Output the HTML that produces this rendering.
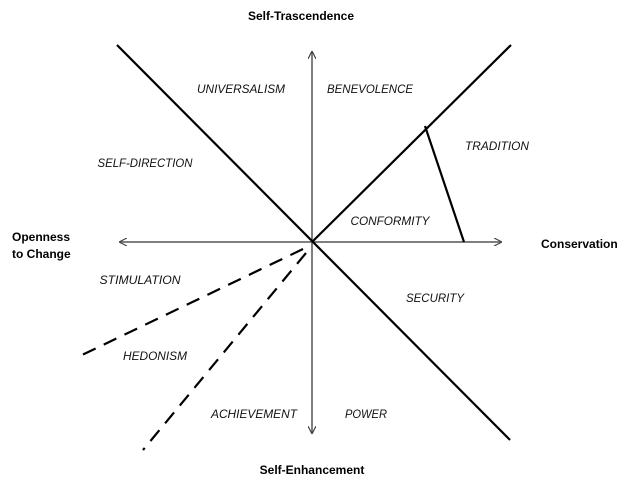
<!DOCTYPE html>
<html><head><style>body{margin:0;background:#fff}svg{display:block}</style></head>
<body>
<svg width="625" height="483" viewBox="0 0 625 483" xmlns="http://www.w3.org/2000/svg">
<defs><marker id="a" markerWidth="8" markerHeight="8" refX="7" refY="4" orient="auto" markerUnits="userSpaceOnUse"><path d="M0,0 L8,4 L0,8" fill="none" stroke="#444" stroke-width="1.2"/></marker></defs>
<g stroke="#555" stroke-width="1.5" fill="none">
<line x1="312" y1="242" x2="312" y2="52" marker-end="url(#a)"/>
<line x1="312" y1="242" x2="312" y2="433" marker-end="url(#a)"/>
<line x1="312" y1="242" x2="120" y2="242" marker-end="url(#a)"/>
<line x1="312" y1="242" x2="501" y2="242" marker-end="url(#a)"/>
</g>
<g stroke="#000" stroke-width="2.2" fill="none">
<line x1="117" y1="45" x2="510" y2="440"/>
<line x1="312" y1="242" x2="511" y2="45"/>
<line x1="425" y1="126" x2="464" y2="242"/>
<line x1="303" y1="249" x2="82" y2="355" stroke-dasharray="14,9"/>
<line x1="306" y1="253" x2="143" y2="450" stroke-dasharray="14,9"/>
</g>
<g font-family="Liberation Sans, sans-serif" font-style="italic" font-size="12" fill="#111" text-anchor="middle">
<text x="241" y="93" textLength="88" lengthAdjust="spacingAndGlyphs">UNIVERSALISM</text>
<text x="370" y="93" textLength="86" lengthAdjust="spacingAndGlyphs">BENEVOLENCE</text>
<text x="497" y="150" textLength="64" lengthAdjust="spacingAndGlyphs">TRADITION</text>
<text x="145" y="167" textLength="95" lengthAdjust="spacingAndGlyphs">SELF-DIRECTION</text>
<text x="390" y="225" textLength="79" lengthAdjust="spacingAndGlyphs">CONFORMITY</text>
<text x="140" y="284" textLength="81" lengthAdjust="spacingAndGlyphs">STIMULATION</text>
<text x="435" y="302" textLength="58" lengthAdjust="spacingAndGlyphs">SECURITY</text>
<text x="155" y="360" textLength="64" lengthAdjust="spacingAndGlyphs">HEDONISM</text>
<text x="254" y="418" textLength="86" lengthAdjust="spacingAndGlyphs">ACHIEVEMENT</text>
<text x="366" y="418" textLength="42" lengthAdjust="spacingAndGlyphs">POWER</text>
</g>
<g font-family="Liberation Sans, sans-serif" font-weight="bold" font-size="12" fill="#000">
<text x="301" y="20" text-anchor="middle">Self-Trascendence</text>
<text x="312" y="474" text-anchor="middle">Self-Enhancement</text>
<text x="12" y="241">Openness</text>
<text x="12" y="258">to Change</text>
<text x="541" y="248">Conservation</text>
</g>
</svg>
</body></html>
